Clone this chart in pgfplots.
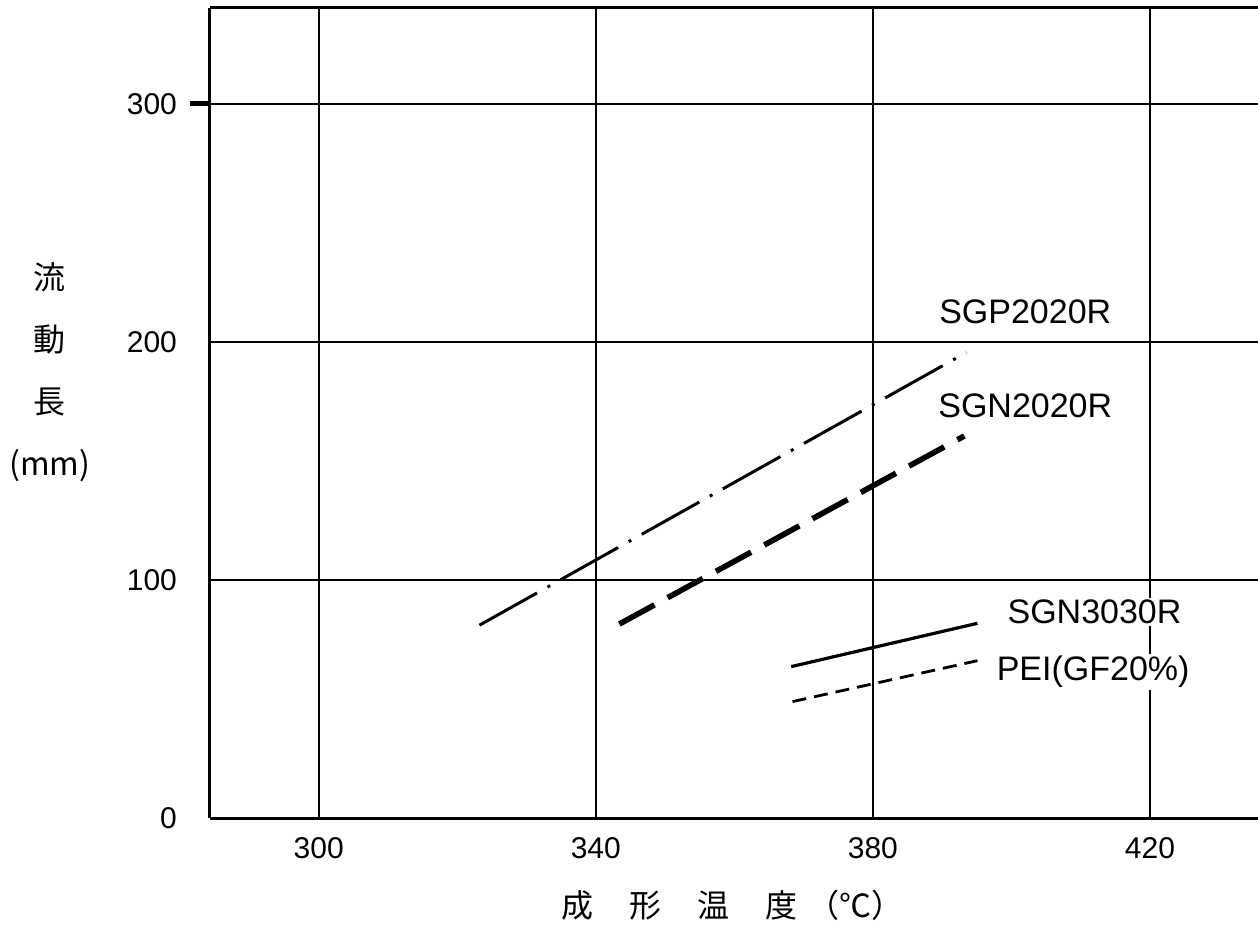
\documentclass[border=0pt]{standalone}
\usepackage{pgfplots}
\pgfplotsset{compat=1.18}
\usepackage{fontspec}
\setmainfont{Liberation Sans}
\newfontfamily\mf{Liberation Sans}
\newfontfamily\cjk{Noto Sans CJK JP}
\begin{document}
\begin{tikzpicture}
\begin{axis}[
 name=ax, at={(0,0)}, anchor=south west,
 scale only axis, width=524pt, height=405pt,
 xmin=284.3, xmax=435.6, ymin=0, ymax=340.3,
 axis x line*=bottom, axis y line*=left,
 axis line style={line width=1.5pt, -},
 xtick={300,340,380,420}, ytick={0,100,200,300},
 grid=major, grid style={black, line width=1.2pt},
 major tick length=0pt,
 tick label style={font=\mf\fontsize{15}{15}\selectfont},
 /pgf/number format/assume math mode=true,
 xticklabel style={yshift=-6pt},
 yticklabel style={xshift=-13pt},
 clip=false,
]
\draw[black, line width=1.5pt] (rel axis cs:0,1) -- (rel axis cs:1,1);
\draw[black, line width=2.5pt] (rel axis cs:0,0.8816) -- ++(-10pt,0pt);
\addplot[black, line width=1.5pt, dash pattern=on 33pt off 6pt on 1.5pt off 6pt] coordinates {(323.2,81) (393.5,195.6)};
\addplot[black, line width=2.8pt, dash pattern=on 20pt off 7.5pt] coordinates {(343.4,81.5) (393.2,160.5)};
\addplot[black, line width=1.6pt] coordinates {(368.2,63.6) (395.1,81.8)};
\addplot[black, line width=1.4pt, dash pattern=on 7pt off 4pt] coordinates {(368.4,48.9) (395.1,66.1)};
\node[fill=white, inner sep=1pt, font=\mf\fontsize{17}{17}\selectfont] at (axis cs:402,212.6) {SGP2020R};
\node[fill=white, inner sep=1pt, font=\mf\fontsize{17}{17}\selectfont] at (axis cs:402,173.1) {SGN2020R};
\node[fill=white, inner sep=1pt, font=\mf\fontsize{17}{17}\selectfont] at (axis cs:412,86.6) {SGN3030R};
\node[fill=white, inner sep=1pt, font=\mf\fontsize{17}{17}\selectfont] at (axis cs:411.8,61.3) {PEI(GF20\%)};
\node[font=\cjk\fontsize{16}{31}\selectfont, align=center, xshift=-80pt] at (axis cs:284.3,187.2) {流\\動\\長\\(mm)};
\node[font=\cjk\fontsize{16}{16}\selectfont, yshift=-43.5pt] at (axis cs:359.7,0) {成\hspace{18pt}形\hspace{18pt}温\hspace{18pt}度\hspace{5pt}（℃）};
\end{axis}
\pgfresetboundingbox
\path (-105pt,-65.5pt) rectangle (524pt,409pt);
\end{tikzpicture}
\end{document}
